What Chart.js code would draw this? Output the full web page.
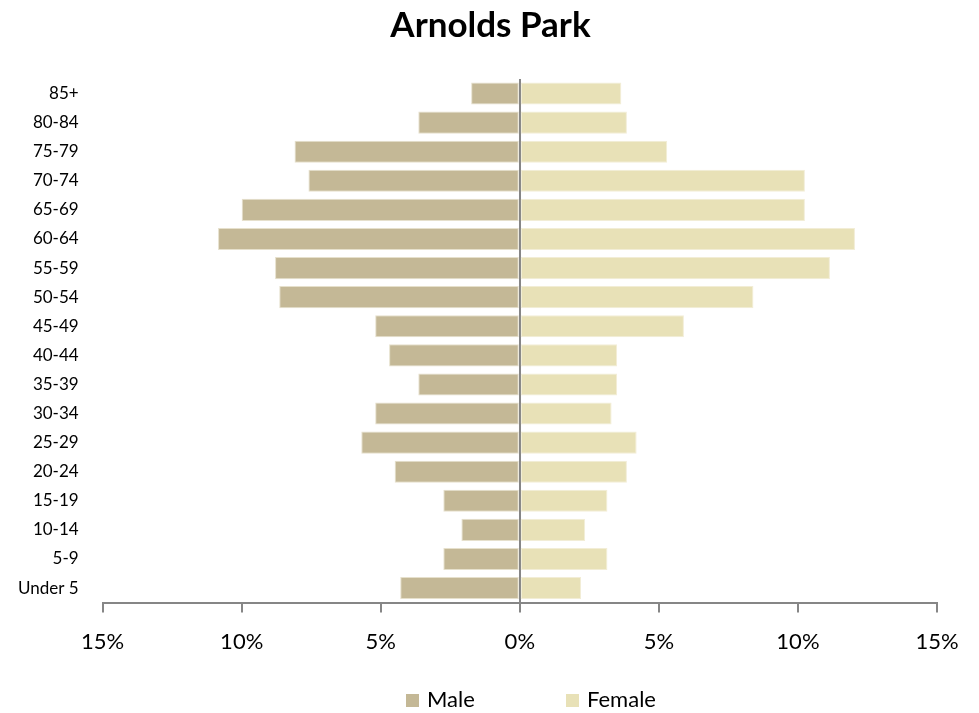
<!DOCTYPE html>
<html>
<head>
<meta charset="utf-8">
<script src="https://cdn.jsdelivr.net/npm/chart.js@4/dist/chart.umd.min.js"></script>
<style>
  html, body { margin: 0; padding: 0; background: #fff; }
  #wrap { width: 979px; height: 713px; }
</style>
</head>
<body>
<div id="wrap"><canvas id="pyramid"></canvas></div>
<script>
// age groups, bottom to top
const ageGroups = ['Under 5', '5-9', '10-14', '15-19', '20-24', '25-29', '30-34', '35-39', '40-44',
    '45-49', '50-54', '55-59', '60-64', '65-69', '70-74', '75-79', '80-84', '85+'];
// percent of population (male drawn to the left)
const malePct = [4.3, 2.75, 2.1, 2.75, 4.5, 5.7, 5.2, 3.65, 4.7, 5.2, 8.65, 8.8, 10.85, 10.0, 7.6, 8.1, 3.65, 1.75];
const femalePct = [2.2, 3.15, 2.35, 3.15, 3.85, 4.2, 3.3, 3.5, 3.5, 5.9, 8.4, 11.15, 12.05, 10.25, 10.25, 5.3, 3.85, 3.65];
const xTicks = [-15, -10, -5, 0, 5, 10, 15];

const font = "Lato, 'Liberation Sans', sans-serif";

// legend drawn by hand so the gap between the two items can be wide
const wideLegend = {
    id: 'wideLegend',
    afterDraw(chart) {
        const ctx = chart.ctx;
        const y = 700;
        let x = 406;
        ctx.save();
        ctx.font = '22px ' + font;
        ctx.textBaseline = 'middle';
        ctx.textAlign = 'left';
        chart.data.datasets.forEach(ds => {
            ctx.fillStyle = ds.backgroundColor;
            ctx.fillRect(x, y - 6, 13, 13);
            ctx.fillStyle = '#000';
            ctx.fillText(ds.label, x + 21, y);
            x += 160;
        });
        ctx.restore();
    }
};

new Chart(document.getElementById('pyramid'), {
    type: 'bar',
    data: {
        labels: ageGroups,
        datasets: [
            {
                label: 'Male',
                data: malePct.map(v => -v),
                backgroundColor: '#C4B896',
                borderColor: '#E6E0CC',
                borderWidth: 1,
                borderSkipped: false,
                barPercentage: 0.76,
                categoryPercentage: 1.0
            },
            {
                label: 'Female',
                data: femalePct,
                backgroundColor: '#E8E1B7',
                borderColor: '#F2EDD6',
                borderWidth: 1,
                borderSkipped: false,
                barPercentage: 0.76,
                categoryPercentage: 1.0
            }
        ]
    },
    plugins: [wideLegend],
    options: {
        indexAxis: 'y',
        responsive: true,
        maintainAspectRatio: false,
        animation: false,
        layout: { padding: { left: 2, right: 0, top: 4, bottom: 42 } },
        plugins: {
            title: {
                display: true,
                text: 'Arnolds Park',
                color: '#000',
                font: { family: font, size: 35, weight: 'bold' },
                padding: { top: 1, bottom: 32 }
            },
            legend: { display: false },
            tooltip: { enabled: false }
        },
        scales: {
            x: {
                stacked: true,
                min: -15,
                max: 15,
                afterBuildTicks: axis => {
                    axis.ticks = xTicks.map(v => ({ value: v }));
                },
                afterFit: axis => {
                    axis.paddingRight = 42;
                },
                ticks: {
                    color: '#000',
                    font: { family: font, size: 22 },
                    padding: 16,
                    callback: v => Math.abs(v) + '%'
                },
                grid: {
                    drawOnChartArea: true,
                    color: ctx => (ctx.tick && ctx.tick.value === 0) ? '#868686' : 'rgba(0,0,0,0)',
                    lineWidth: 2,
                    tickColor: '#868686',
                    tickLength: 10
                },
                border: { display: true, color: '#868686', width: 2 }
            },
            y: {
                stacked: true,
                reverse: true,
                ticks: {
                    color: '#000',
                    font: { family: font, size: 17 },
                    padding: 16,
                    autoSkip: false
                },
                grid: { display: false },
                border: { display: false }
            }
        }
    }
});
</script>
</body>
</html>
